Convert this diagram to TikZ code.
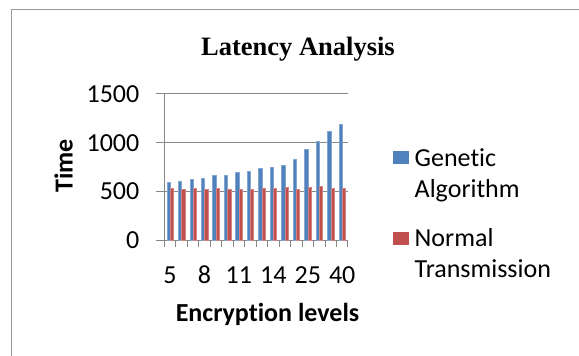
\documentclass[tikz,border=0pt]{standalone}
\usepackage{fontspec}
\setmainfont{Carlito}[Ligatures=NoCommon]
\newfontfamily\titlefont{Liberation Serif}
\definecolor{gablue}{HTML}{4F81BD}
\definecolor{ntred}{HTML}{C0504D}
\definecolor{gridgray}{HTML}{868686}
\definecolor{framegray}{HTML}{9A9A9A}
\begin{document}
\begin{tikzpicture}[x=1pt,y=-1pt,
  lbl/.style={font=\fontsize{26}{30}\selectfont, inner sep=0pt},
  axtitle/.style={font=\bfseries\fontsize{26}{30}\selectfont, inner sep=0pt},
  grid/.style={draw=gridgray, line width=1pt},
  legkey/.style={inner sep=0pt, minimum width=15.5pt, minimum height=13.7pt},
  gabar/.style={fill=gablue, draw=gablue!70!white, line width=0.4pt},
  ntbar/.style={fill=ntred, draw=ntred!70!white, line width=0.4pt}]
\useasboundingbox (0,0) rectangle (579,356);
\fill[white] (0,0) rectangle (579,356);
% frame
\draw[framegray, line width=1.6pt] (11.5,356) -- (11.5,9.5) -- (579,9.5);
% title
\node[font=\titlefont\bfseries\fontsize{26.5}{30}\selectfont, anchor=base, inner sep=0pt] (title) at (298,55) {Latency Analysis};
% gridlines and y labels
\foreach \v in {0,500,1000,1500}{
  \draw[grid] (156,{240-\v*0.097333}) -- (348,{240-\v*0.097333});
  \node[lbl, anchor=east] (ylab\v) at (139.5,{240-\v*0.097333}) {\v};
}
% axis and ticks
\draw[grid] (164.3,94) -- (164.3,247);
\foreach \i in {0,...,16}{
  \draw[grid] ({164.3+\i*11.48},240) -- ({164.3+\i*11.48},247);
}
% bars
\foreach \b [count=\i] in {589,606,623,634,661,661,695,705,733,747,764,829,928,1017,1120,1188}{
  \filldraw[gabar] ({164.3+(\i-0.5)*11.48-3.28},240) rectangle ({164.3+(\i-0.5)*11.48},{240-\b*0.097333});
}
\foreach \b [count=\i] in {531,524,531,521,534,521,524,524,531,531,541,524,545,551,534,534}{
  \filldraw[ntbar] ({164.3+(\i-0.5)*11.48},240) rectangle ({164.3+(\i-0.5)*11.48+3.28},{240-\b*0.097333});
}
% x labels
\foreach \t/\c in {5/1,8/4,11/7,14/10,25/13,40/16}{
  \node[lbl, anchor=base] (xlab\t) at ({164.3+(\c-0.5)*11.48},283.3) {\t};
}
% axis titles
\node[axtitle, rotate=90, anchor=center] (ytitle) at (63.7,166) {Time};
\node[axtitle, anchor=base] (xtitle) at (267.5,321.7) {Encryption levels};
% legend
\node[legkey, fill=gablue] (keyga) at (401.2,157.5) {};
\node[lbl, anchor=base west] (legga1) at (414.5,166) {Genetic};
\node[lbl, anchor=base west] (legga2) at (414.5,197.3) {Algorithm};
\node[legkey, fill=ntred] (keynt) at (401.2,238.5) {};
\node[lbl, anchor=base west] (legnt1) at (414.5,246.3) {Normal};
\node[lbl, anchor=base west] (legnt2) at (414.5,277.6) {Transmission};
\end{tikzpicture}
\end{document}
